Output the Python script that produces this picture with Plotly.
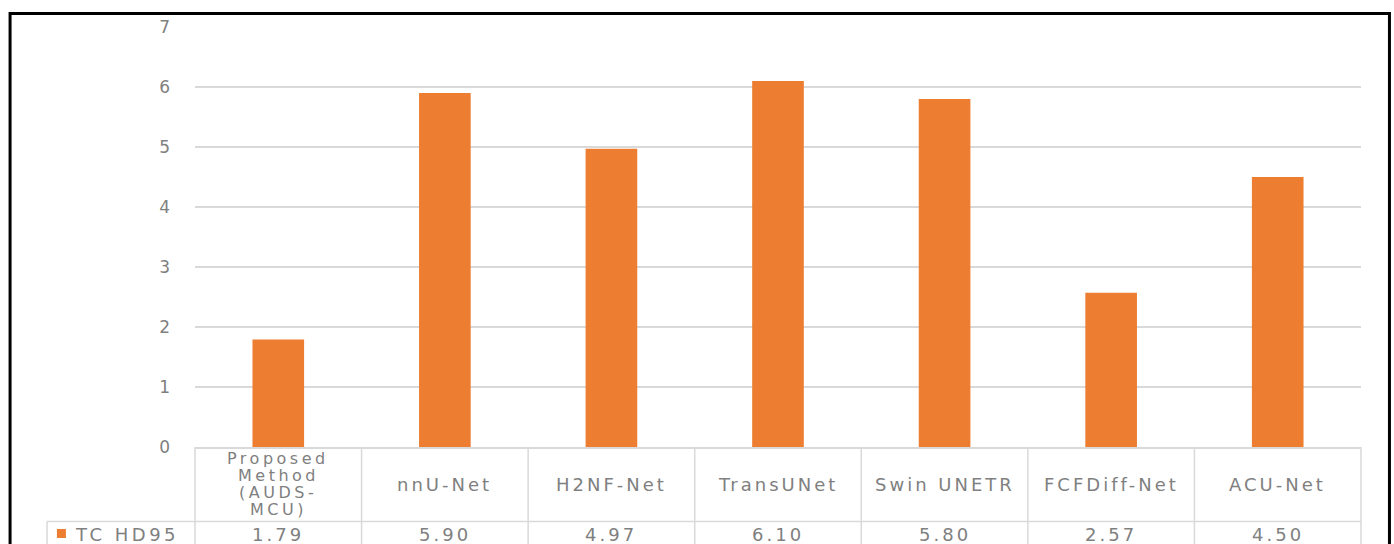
import plotly.graph_objects as go

# Chart data
categories = ["Proposed Method (AUDS-MCU)", "nnU-Net", "H2NF-Net", "TransUNet",
              "Swin UNETR", "FCFDiff-Net", "ACU-Net"]
category_lines = [["Proposed", "Method", "(AUDS-", "MCU)"], ["nnU-Net"], ["H2NF-Net"],
                  ["TransUNet"], ["Swin UNETR"], ["FCFDiff-Net"], ["ACU-Net"]]
series_name = "TC HD95"
tc_hd95 = [1.79, 5.90, 4.97, 6.10, 5.80, 2.57, 4.50]
y_ticks = [0, 1, 2, 3, 4, 5, 6, 7]

BAR = "#ED7D31"
TEXT = "#808080"
GRID = "#d9d9d9"
FONT = "DejaVu Sans"
PLOT_H = 420  # plot area height in px, used to convert pixel offsets to paper units


def wide(s, spacing):
    return f'<span style="letter-spacing:{spacing}px">{s}</span>'


fig = go.Figure()
fig.add_trace(go.Bar(x=list(range(len(categories))), y=tc_hd95, name=series_name,
                     marker=dict(color=BAR, line=dict(width=0)), showlegend=False))

n = len(categories)
shapes = []
# data table grid below the plot area
row_split = -0.1774
table_bottom = -0.30
for k in range(n + 1):
    shapes.append(dict(type="line", xref="x domain", yref="paper", x0=k / n, x1=k / n,
                       y0=0, y1=table_bottom, line=dict(color=GRID, width=1.5)))
shapes.append(dict(type="line", xref="paper", yref="paper", x0=-0.1269, x1=1,
                   y0=row_split, y1=row_split, line=dict(color=GRID, width=1.5)))
shapes.append(dict(type="line", xref="paper", yref="paper", x0=-0.1269, x1=-0.1269,
                   y0=row_split, y1=table_bottom, line=dict(color=GRID, width=1.5)))
# legend key in the table
shapes.append(dict(type="rect", xref="paper", yref="paper", x0=-0.1184, x1=-0.1107,
                   y0=-0.2167, y1=-0.1952, fillcolor=BAR, line=dict(width=0)))
# outer frame
shapes.append(dict(type="rect", xref="paper", yref="paper", x0=-0.1586, x1=1.0244,
                   y0=1.0321, y1=-0.35, line=dict(color="black", width=3),
                   fillcolor="rgba(0,0,0,0)"))

annotations = []
row_center = -0.0885
line_step = 17.2 / PLOT_H
for i, (lines, v) in enumerate(zip(category_lines, tc_hd95)):
    m = len(lines)
    size, spacing = (18, 3) if m == 1 else (16, 3.5)
    for j, ln in enumerate(lines):
        annotations.append(dict(x=i, y=row_center - (j - (m - 1) / 2) * line_step,
                                xref="x", yref="paper", text=wide(ln, spacing),
                                showarrow=False, xanchor="center", yanchor="middle",
                                borderpad=0,
                                font=dict(family=FONT, size=size, color=TEXT)))
    annotations.append(dict(x=i, y=-0.2095, xref="x", yref="paper", text=wide(f"{v:.2f}", 3),
                            showarrow=False, xanchor="center", yanchor="middle",
                            font=dict(family=FONT, size=18, color=TEXT)))
annotations.append(dict(x=-0.1046, y=-0.2095, xref="paper", yref="paper",
                        text=wide(series_name, 3.5),
                        showarrow=False, xanchor="left", yanchor="middle",
                        font=dict(family=FONT, size=18, color=TEXT)))

fig.update_layout(
    width=1394, height=544,
    margin=dict(l=195, r=33, t=27, b=97),
    paper_bgcolor="white", plot_bgcolor="white",
    bargap=0.69,
    font=dict(family=FONT, color=TEXT),
    shapes=shapes, annotations=annotations,
    xaxis=dict(range=[-0.5, n - 0.5], showticklabels=False, showgrid=False,
               showline=True, linecolor=GRID, linewidth=1.5, zeroline=False, fixedrange=True),
    yaxis=dict(range=[0, 7], tickvals=y_ticks, showgrid=True, gridcolor=GRID, gridwidth=1.5,
               zeroline=False, showline=False, ticks="", ticklabelstandoff=24,
               tickfont=dict(family=FONT, size=17, color=TEXT)),
)

fig.write_html("out.html")
